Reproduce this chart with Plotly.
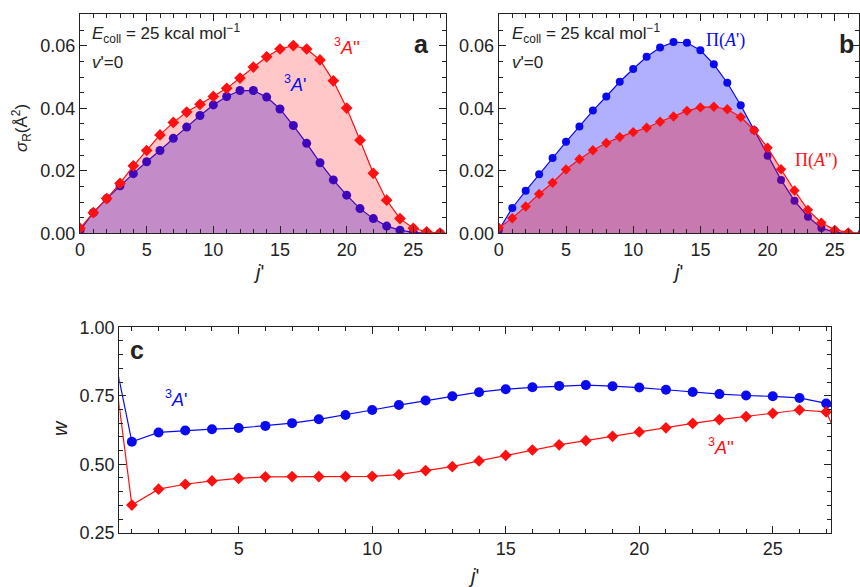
import plotly.graph_objects as go

# ---------------- data ----------------
j_ab = list(range(28))
# panel a
sigma_3Ap = [0.0010, 0.0066, 0.0111, 0.0152, 0.0191, 0.0229, 0.0265, 0.0304, 0.0340, 0.0377,
             0.0411, 0.0438, 0.0457, 0.0457, 0.0436, 0.0398, 0.0345, 0.0288, 0.0226, 0.0171,
             0.0122, 0.0079, 0.0047, 0.0023, 0.0010, 0.0003, 0.0000, 0.0000]
sigma_3App = [0.0016, 0.0066, 0.0111, 0.0160, 0.0216, 0.0265, 0.0315, 0.0355, 0.0388, 0.0413,
              0.0438, 0.0464, 0.0497, 0.0532, 0.0565, 0.0590, 0.0601, 0.0590, 0.0555, 0.0488,
              0.0401, 0.0298, 0.0192, 0.0106, 0.0047, 0.0016, 0.0005, 0.0001]
# panel b
pi_Ap = [0.0010, 0.0081, 0.0136, 0.0189, 0.0241, 0.0293, 0.0342, 0.0393, 0.0438, 0.0485,
         0.0526, 0.0565, 0.0595, 0.0612, 0.0610, 0.0586, 0.0541, 0.0482, 0.0410, 0.0330,
         0.0248, 0.0171, 0.0104, 0.0053, 0.0017, 0.0003, 0.0000, 0.0000]
pi_App = [0.0018, 0.0048, 0.0086, 0.0126, 0.0162, 0.0204, 0.0237, 0.0266, 0.0289, 0.0308,
          0.0324, 0.0338, 0.0357, 0.0374, 0.0392, 0.0403, 0.0405, 0.0397, 0.0372, 0.0330,
          0.0274, 0.0205, 0.0137, 0.0075, 0.0034, 0.0011, 0.0003, 0.0000]
# panel c
j_c = list(range(29))
w_3Ap = [1.06, 0.582, 0.616, 0.623, 0.628, 0.632, 0.640, 0.650, 0.664, 0.680,
         0.698, 0.716, 0.733, 0.748, 0.763, 0.774, 0.781, 0.786, 0.789, 0.785,
         0.780, 0.772, 0.764, 0.756, 0.751, 0.748, 0.742, 0.722, 0.66]
w_3App = [1.12, 0.351, 0.409, 0.427, 0.439, 0.448, 0.454, 0.455, 0.455, 0.455,
          0.456, 0.462, 0.477, 0.491, 0.512, 0.532, 0.552, 0.571, 0.586, 0.602,
          0.618, 0.633, 0.649, 0.663, 0.674, 0.686, 0.698, 0.691, 0.48]

BLUE = '#0a0af0'
RED = '#ff1010'
AX = '#222222'
FONT = 'Liberation Sans, Arial, Helvetica, sans-serif'

fig = go.Figure()

def add(x, y, xa, ya, color, symbol, size, fillcolor=None):
    fig.add_trace(go.Scatter(
        x=x, y=y, xaxis=xa, yaxis=ya, mode='lines+markers',
        fill='tozeroy' if fillcolor else None, fillcolor=fillcolor,
        line=dict(color=color, width=1.2),
        marker=dict(symbol=symbol, size=size, color=color, line=dict(width=0)),
        cliponaxis=True, showlegend=False, hoverinfo='skip'))

# panel a
add(j_ab, sigma_3Ap, 'x', 'y', BLUE, 'circle', 9, 'rgba(0,0,255,0.30)')
add(j_ab, sigma_3App, 'x', 'y', RED, 'diamond', 9, 'rgba(255,0,0,0.22)')
# panel b
add(j_ab, pi_Ap, 'x2', 'y2', BLUE, 'circle', 8, 'rgba(0,0,255,0.31)')
add(j_ab, pi_App, 'x2', 'y2', RED, 'diamond', 8, 'rgba(255,0,0,0.31)')
# panel c
add(j_c, w_3Ap, 'x3', 'y3', BLUE, 'circle', 10)
add(j_c, w_3App, 'x3', 'y3', RED, 'diamond', 9)

def axis(rng, dtick, mdtick, domain, anchor, fmt=None, showlabels=True):
    d = dict(range=rng, domain=domain, anchor=anchor, dtick=dtick, tick0=0,
             showline=True, linecolor=AX, linewidth=1.2, mirror='allticks',
             ticks='inside', ticklen=7, tickwidth=1.2, tickcolor=AX,
             minor=dict(ticks='inside', ticklen=4, dtick=mdtick, tick0=0, tickcolor=AX, tickwidth=1),
             showgrid=False, zeroline=False, showticklabels=showlabels, automargin=False,
             tickfont=dict(family=FONT, size=18, color=AX))
    if fmt:
        d['tickformat'] = fmt
    return d

W, H = 860, 587
def px(x0, x1):
    return [x0 / W, x1 / W]
def py(top, bottom):
    return [1 - bottom / H, 1 - top / H]

fig.update_layout(
    width=W, height=H, margin=dict(l=0, r=0, t=0, b=0, pad=0, autoexpand=False),
    paper_bgcolor='white', plot_bgcolor='white',
    xaxis=axis([0, 27.45], 5, 1, px(80, 446), 'y'),
    yaxis=axis([0, 0.0702], 0.02, 0.005, py(14, 233.3), 'x', '.2f'),
    xaxis2=axis([0, 26.8], 5, 1, px(498.8, 859), 'y2'),
    yaxis2=axis([0, 0.0702], 0.02, 0.005, py(14, 233.3), 'x2', '.2f'),
    xaxis3=axis([0.53, 27.18], 5, 1, px(119.3, 831), 'y3'),
    yaxis3=axis([0.25, 1.0], 0.25, 0.05, py(327.3, 532.7), 'x3', '.2f'),
)

def ann(text, x, y, size=18, color=AX, xanchor='center', yanchor='middle', angle=0, family=FONT):
    fig.add_annotation(text=text, x=x / W, y=1 - y / H, xref='paper', yref='paper',
                       showarrow=False, xanchor=xanchor, yanchor=yanchor, textangle=angle,
                       font=dict(family=family, size=size, color=color))

# axis titles
ann("<i>j</i>'", 258, 272, size=20)
ann("<i>j</i>'", 677, 272, size=20)
ann("<i>j</i>'", 474, 576, size=20)
ann("<i>σ</i><sub>R</sub>(Å<sup>2</sup>)", 22, 128, size=17, angle=-90)
ann("<i>w</i>", 60, 428, size=20, angle=-90)

# panel a labels
ann("<i>E</i><sub>coll</sub> = 25 kcal mol<sup>−1</sup>", 90, 33, size=17, xanchor='left')
ann("<i>v</i>'=0", 90, 63, size=17, xanchor='left')
ann("<b>a</b>", 421, 44, size=25)
ann("<sup>3</sup><i>A</i>''", 347, 46, size=18, color=RED)
ann("<sup>3</sup><i>A</i>'", 295, 83, size=18, color=BLUE)

# panel b labels
ann("<i>E</i><sub>coll</sub> = 25 kcal mol<sup>−1</sup>", 510, 33, size=17, xanchor='left')
ann("<i>v</i>'=0", 510, 63, size=17, xanchor='left')
ann("<b>b</b>", 846, 44, size=25)
ann("Π(<i>A</i>')", 725, 40, size=18, color=BLUE, family='Liberation Serif, Times New Roman, serif')
ann("Π(<i>A</i>'')", 816, 160, size=18, color=RED, family='Liberation Serif, Times New Roman, serif')

# panel c labels
ann("<b>c</b>", 137, 350, size=25)
ann("<sup>3</sup><i>A</i>'", 176, 398, size=18, color=BLUE)
ann("<sup>3</sup><i>A</i>''", 721, 446, size=18, color=RED)

fig.write_html("out.html", config={'displayModeBar': False},
               post_script="document.body.style.margin='0';document.body.style.overflow='hidden';")
